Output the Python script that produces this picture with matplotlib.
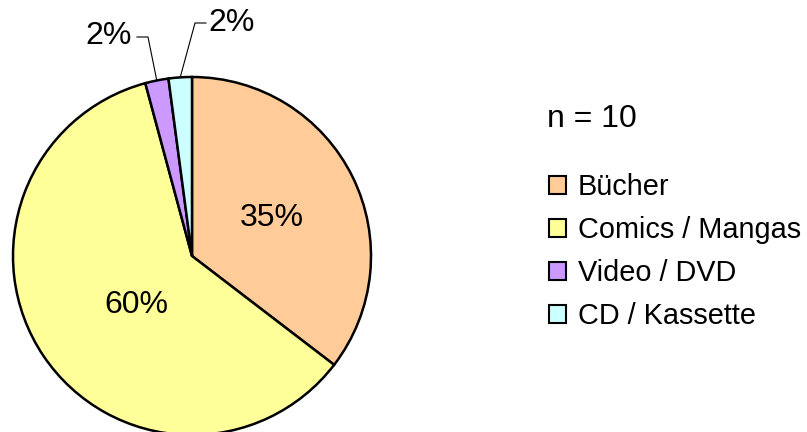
import numpy as np
import matplotlib
matplotlib.use("Agg")
import matplotlib.pyplot as plt
from matplotlib.patches import Patch

plt.rcParams['font.family'] = ['Liberation Sans', 'DejaVu Sans']

# --- data ---
categories = ["Bücher", "Comics / Mangas", "Video / DVD", "CD / Kassette"]
shares = [35.4, 60.4, 2.1, 2.1]
colors = ["#FFCC99", "#FFFF99", "#CC99FF", "#CCFFFF"]
n_label = "n = 10"

# --- layout (pixel units, y up) ---
W, H = 807, 432
cx, cy, R = 192, 176, 179

fig = plt.figure(figsize=(W / 100, H / 100), dpi=100)
ax = fig.add_axes([0, 0, 1, 1])

wedges, _ = ax.pie(shares, colors=colors, startangle=90, counterclock=False,
                   center=(cx, cy), radius=R,
                   wedgeprops=dict(edgecolor="black", linewidth=1.8))

ax.set_xlim(0, W)
ax.set_ylim(0, H)
ax.set_aspect("equal")
ax.axis("off")

labels = [f"{v:.0f}%" for v in shares]
fs = 23

# inside labels
ax.text(272, 214, labels[0], fontsize=fs, ha="center", va="center")
ax.text(136, 127, labels[1], fontsize=fs, ha="center", va="center")

# leader lines for the small slices
def wedge_edge(w):
    a = np.deg2rad((w.theta1 + w.theta2) / 2)
    return cx + R * np.cos(a), cy + R * np.sin(a)

x0, y0 = wedge_edge(wedges[2])
ax.plot([x0, 148, 137], [y0, 395, 395], color="black", lw=0.8)
ax.text(132, 396, labels[2], fontsize=fs, ha="right", va="center")

x0, y0 = wedge_edge(wedges[3])
ax.plot([x0, 195, 206], [y0, 409, 409], color="black", lw=0.8)
ax.text(208, 409, labels[3], fontsize=fs, ha="left", va="center")

# sample size
ax.text(547, 313, n_label, fontsize=fs, ha="left", va="center")

handles = [Patch(facecolor=c, edgecolor="black", linewidth=1.5) for c in colors]
fig.legend(handles, categories, loc="upper left", bbox_to_anchor=(549 / W, 1 - 173 / H),
           frameon=False, fontsize=20.8, borderpad=0, borderaxespad=0,
           handlelength=0.6, handleheight=0.6, handletextpad=0.4, labelspacing=0.52)

fig.savefig("out.png", dpi=100)
